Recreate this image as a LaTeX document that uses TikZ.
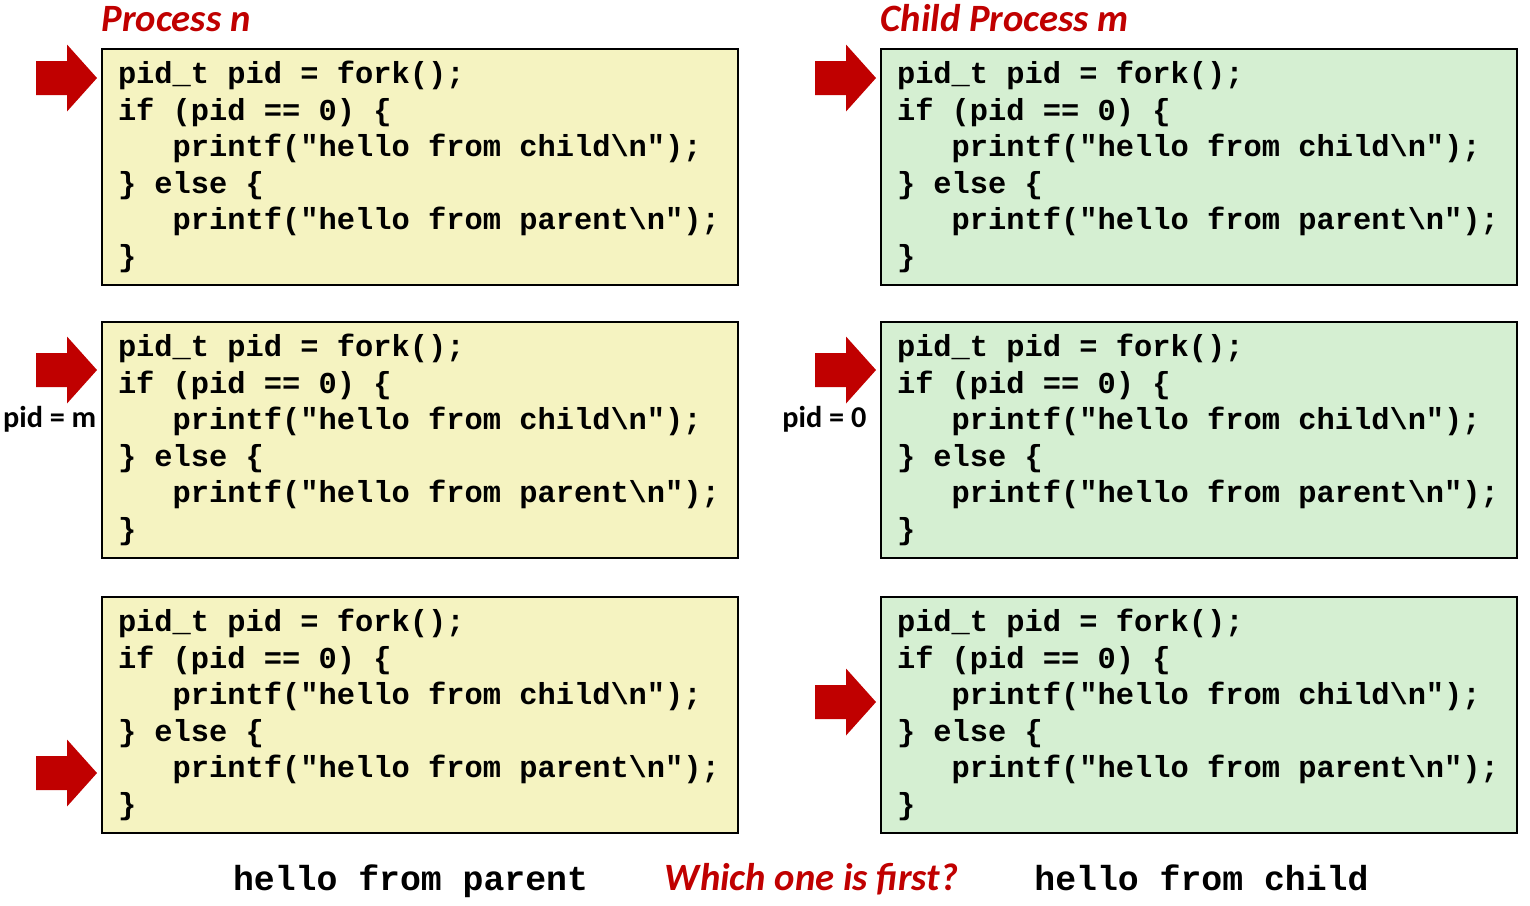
\documentclass[tikz,border=0pt]{standalone}
\usepackage{fontspec}
\setmainfont{Carlito}
\setmonofont{Liberation Mono}
\usepackage{xcolor}
\definecolor{procred}{HTML}{C00000}
\definecolor{parentfill}{HTML}{F5F3C1}
\definecolor{childfill}{HTML}{D5EFD2}
\newcommand{\forkcode}{\spaceskip=0pt \xspaceskip=0pt pid\_t pid = fork();\\
if (pid == 0) \{\\
\hspace*{1.8em}printf("hello from child\textbackslash n");\\
\} else \{\\
\hspace*{1.8em}printf("hello from parent\textbackslash n");\\
\}}
\newcommand{\bigarrow}[1]{\fill[procred] (#1) -- ++(-0.30,0.335) -- ++(0,-0.165) -- ++(-0.31,0) -- ++(0,-0.34) -- ++(0.31,0) -- ++(0,-0.165) -- cycle;}

\begin{document}
\begin{tikzpicture}[
    code/.style={draw, line width=0.6pt, text width=6.04cm, inner xsep=0.16cm, inner ysep=0pt,
        minimum height=2.36cm, align=left, font=\ttfamily\bfseries\fontsize{8.65}{10.4}\selectfont},
    title/.style={text=procred, font=\bfseries\itshape\fontsize{11}{13}\selectfont, inner sep=0pt},
    pidlabel/.style={font=\bfseries\fontsize{8.6}{10}\selectfont, inner sep=0pt},
    output/.style={font=\ttfamily\bfseries\fontsize{9.9}{12}\selectfont, inner sep=0pt}]
    \useasboundingbox (0,0) rectangle (15.3,-9.05);

    %Titles
    \node[title, anchor=base west] (ptitle) at (1.01,-0.31) {Process n};
    \node[title, anchor=base west] (ctitle) at (8.80,-0.31) {Child Process m};

    %Parent
    \node[code, fill=parentfill] (p1) at (4.20,-1.67) {\forkcode};
    \node[code, fill=parentfill] (p2) at (4.20,-4.40) {\forkcode};
    \node[code, fill=parentfill] (p3) at (4.20,-7.15) {\forkcode};

    %Child
    \node[code, fill=childfill] (c1) at (11.99,-1.67) {\forkcode};
    \node[code, fill=childfill] (c2) at (11.99,-4.40) {\forkcode};
    \node[code, fill=childfill] (c3) at (11.99,-7.15) {\forkcode};

    %Arrows
    \bigarrow{0.97,-0.78}
    \bigarrow{0.97,-3.70}
    \bigarrow{0.97,-7.73}
    \bigarrow{8.76,-0.78}
    \bigarrow{8.76,-3.70}
    \bigarrow{8.76,-7.02}

    %Return values
    \node[pidlabel, anchor=base east] (pidm) at (0.97,-4.27) {pid = m};
    \node[pidlabel, anchor=base east] (pidz) at (8.67,-4.27) {pid = 0};

    %Output
    \node[output, anchor=base] (outp) at (4.105,-8.90) {hello from parent};
    \node[title, anchor=base] (first) at (8.115,-8.90) {Which one is first?};
    \node[output, anchor=base] (outc) at (12.015,-8.90) {hello from child};
\end{tikzpicture}
\end{document}
